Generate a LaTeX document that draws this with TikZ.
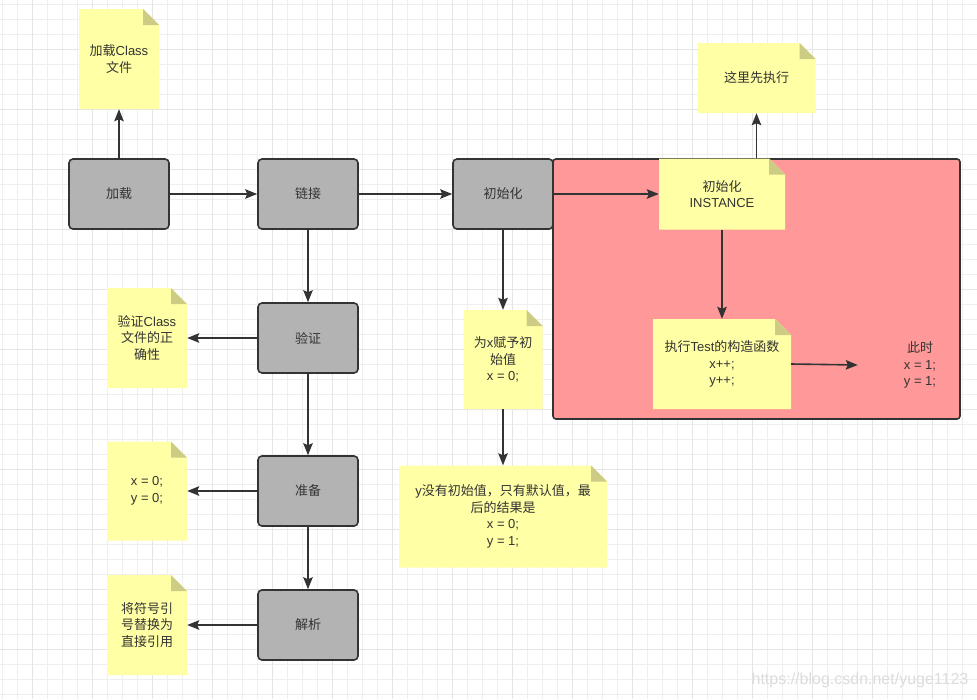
\documentclass[tikz,border=0pt]{standalone}
\usepackage{fontspec}
\setmainfont{Liberation Sans}
\newfontfamily\cjk{Noto Sans CJK SC}
\newfontfamily\wmfont{Liberation Sans}
\usetikzlibrary{arrows.meta}
\definecolor{ink}{HTML}{333333}
\definecolor{boxgray}{HTML}{B3B3B3}
\definecolor{notey}{HTML}{FFFFA5}
\definecolor{foldy}{HTML}{CCCC84}
\definecolor{redbg}{HTML}{FF9999}
\definecolor{gridminor}{HTML}{EFEFEF}
\definecolor{gridmajor}{HTML}{E5E5E5}
\definecolor{wmcol}{HTML}{DCDCDC}
\tikzset{
  notetext/.style={text=ink, align=center, font=\fontsize{13}{16.5}\selectfont, inner sep=2pt},
  graybox/.style={draw=ink, line width=1.6pt, fill=boxgray, rounded corners=4pt,
    minimum width=100pt, minimum height=70pt, text=ink, font=\fontsize{13}{16.5}\selectfont},
  redregion/.style={draw=ink, line width=1.6pt, fill=redbg, rounded corners=3pt},
  conn/.style={draw=ink, line width=1.6pt, -{Stealth[length=12pt,width=9.5pt,inset=2pt]}},
  minorline/.style={draw=gridminor, line width=0.9pt},
  majorline/.style={draw=gridmajor, line width=0.9pt},
}
\newcommand\stickynote[6]{%
  \fill[notey] ({#2-#4/2},{#3-#5/2}) -- ({#2+#4/2-16},{#3-#5/2}) -- ({#2+#4/2},{#3-#5/2+16}) -- ({#2+#4/2},{#3+#5/2}) -- ({#2-#4/2},{#3+#5/2}) -- cycle;
  \fill[foldy] ({#2+#4/2-16},{#3-#5/2}) -- ({#2+#4/2},{#3-#5/2+16}) -- ({#2+#4/2-16},{#3-#5/2+16}) -- cycle;
  \node[notetext, minimum width=#4pt, minimum height=#5pt] (#1) at (#2,#3) {#6};
}
\begin{document}
\begin{tikzpicture}[x=1pt,y=-1pt]
\useasboundingbox (0,0) rectangle (977,699);
\fill[white] (0,0) rectangle (977,699);
% grid
\foreach \i in {0,...,65} \draw[minorline] ({2.7+15*\i},0) -- ({2.7+15*\i},699);
\foreach \j in {0,...,46} \draw[minorline] (0,{4.3+15*\j}) -- (977,{4.3+15*\j});
\foreach \i in {0,...,16} \draw[majorline] ({32.7+60*\i},0) -- ({32.7+60*\i},699);
\foreach \j in {0,...,11} \draw[majorline] (0,{49.3+60*\j}) -- (977,{49.3+60*\j});

% red region
\node[redregion, minimum width=407pt, minimum height=260pt] (redgrp) at (756.5,289) {};

% gray process boxes
\node[graybox] (load) at (119,194) {\cjk 加载};
\node[graybox] (link) at (308,194) {\cjk 链接};
\node[graybox] (init) at (503,194) {\cjk 初始化};
\node[graybox] (verify) at (308,338) {\cjk 验证};
\node[graybox] (prep) at (308,491) {\cjk 准备};
\node[graybox] (resolve) at (308,625) {\cjk 解析};

% notes
\stickynote{n1}{119}{59}{80}{100}{{\cjk 加载}Class\\{\cjk 文件}}
\stickynote{first}{756.5}{78}{118}{70}{{\cjk 这里先执行}}
\stickynote{xnote}{503}{359.5}{79}{99}{{\cjk 为}x{\cjk 赋予初}\\{\cjk 始值}\\x = 0;}
\stickynote{ynote}{503}{516.5}{208}{102}{y{\cjk 没有初始值，只有默认值，最}\\{\cjk 后的结果是}\\x = 0;\\y = 1;}
\stickynote{inst}{722}{194}{126}{71}{{\cjk 初始化}\\INSTANCE}
\stickynote{exec}{722}{364}{138}{90}{{\cjk 执行}Test{\cjk 的构造函数}\\x++;\\y++;}
\stickynote{vnote}{147}{338}{80}{100}{{\cjk 验证}Class\\{\cjk 文件的正}\\{\cjk 确性}}
\stickynote{pnote}{147}{491}{80}{99}{x = 0;\\y = 0;}
\stickynote{rnote}{147}{625}{80}{100}{{\cjk 将符号引}\\{\cjk 号替换为}\\{\cjk 直接引用}}

\node[notetext, minimum width=124pt] (now) at (920,365) {{\cjk 此时}\\x = 1;\\y = 1;};

% connectors
\draw[conn] (load.north) -- (n1.south);
\draw[conn] (load.east) -- (link.west);
\draw[conn] (link.east) -- (init.west);
\draw[conn] (init.east) -- (inst.west);
\draw[conn] (redgrp.north) -- (first.south);
\draw[conn] (inst.south) -- (exec.north);
\draw[conn] (exec.east) -- (now.west);
\draw[conn] (link.south) -- (verify.north);
\draw[conn] (verify.south) -- (prep.north);
\draw[conn] (prep.south) -- (resolve.north);
\draw[conn] (verify.west) -- (vnote.east);
\draw[conn] (prep.west) -- (pnote.east);
\draw[conn] (resolve.west) -- (rnote.east);
\draw[conn] (init.south) -- (xnote.north);
\draw[conn] (xnote.south) -- (ynote.north);

% watermark
\node[text=wmcol, font=\wmfont\fontsize{16}{16}\selectfont, inner sep=0pt] (wm) at (860,680) {https://blog.csdn.net/yuge1123};
\end{tikzpicture}
\end{document}
